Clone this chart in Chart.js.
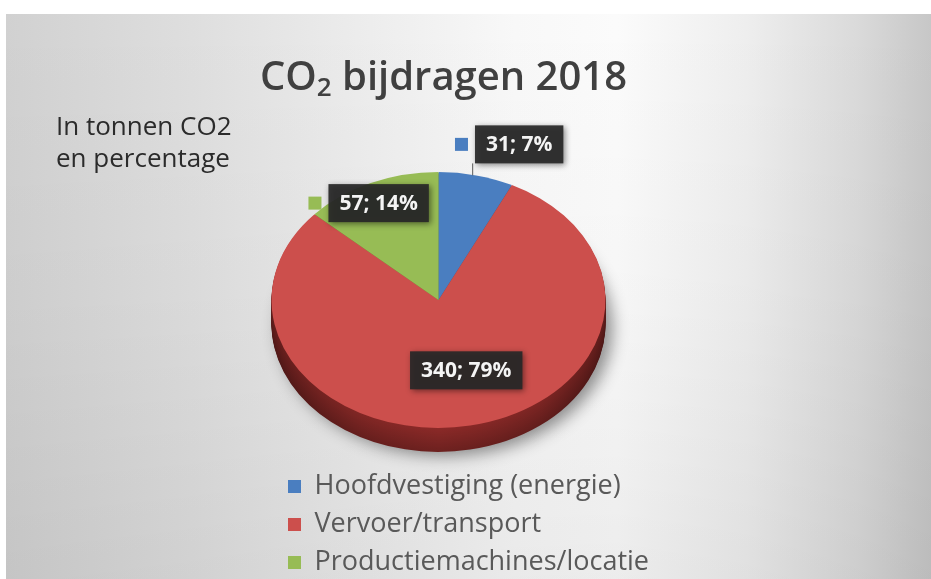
<!DOCTYPE html>
<html>
<head>
<meta charset="utf-8">
<script src="https://cdn.jsdelivr.net/npm/chart.js@4.4.1/dist/chart.umd.min.js"></script>
<style>
  html, body { margin: 0; padding: 0; background: #ffffff; width: 931px; height: 579px; overflow: hidden; }
  #panel {
    position: absolute; left: 6px; top: 14px; width: 925px; height: 565px;
    background:
      linear-gradient(to bottom, rgba(0,0,0,0) 0%, rgba(0,0,0,0.02) 50%, rgba(0,0,0,0.06) 100%),
      linear-gradient(to right, #d1d1d1 0%, #dedede 20%, #ececec 38%, #f8f8f8 55%, #fbfbfb 66%, #eeeeee 80%, #dadada 92%, #c7c7c7 100%);
  }
  #wrap { position: absolute; left: 0; top: 0; width: 931px; height: 579px; }
</style>
</head>
<body>
<div id="panel"></div>
<div id="wrap"><canvas id="c" width="931" height="579"></canvas></div>
<script>
// ---- data ----
const categories = ['Hoofdvestiging (energie)', 'Vervoer/transport', 'Productiemachines/locatie'];
const tonnes = [31, 340, 57];
const percentages = [7, 79, 14];
const titleMain = 'CO';
const titleSub = '2';
const titleRest = ' bijdragen 2018';
const subtitleLines = ['In tonnen CO2', 'en percentage'];

// ---- styles ----
const topColors = ['#4a7ec0', '#cc4f4c', '#97bc55'];
const sideRGB = [[47, 88, 140], [140, 42, 40], [104, 136, 52]];
const TILT = 0.766;     // vertical squash of the pie face
const DEPTH = 24;       // thickness of the 3D pie in px
const FONT = '"Open Sans", "Liberation Sans", sans-serif';

// label placement relative to each slice (inside fraction or outside offset)
const labelPlacement = [
  { mode: 'outside', dx: 43, dy: -31, leader: true },
  { mode: 'inside', f: 0.56, dx: 10, dy: 0 },
  { mode: 'outside', dx: 8, dy: 20, leader: false }
];

function rgb(c, k) {
  return 'rgb(' + c.map(v => Math.round(v * k)).join(',') + ')';
}

const pie3d = {
  id: 'pie3d',
  beforeDatasetsDraw(chart) {
    const ctx = chart.ctx;
    const arcs = chart.getDatasetMeta(0).data;
    ctx.save();
    if (!arcs.length) return;
    const cx = arcs[0].x, cy = arcs[0].y, R = arcs[0].outerRadius;
    ctx.translate(cx, cy); ctx.scale(1, TILT); ctx.translate(-cx, -cy);
    for (let d = DEPTH; d >= 1; d--) {
      ctx.save();
      ctx.translate(0, d / TILT);
      if (d === DEPTH) {
        ctx.shadowColor = 'rgba(0,0,0,0.42)';
        ctx.shadowBlur = 16;
        ctx.shadowOffsetX = 7;
        ctx.shadowOffsetY = 4;
      }
      const shade = 1 - 0.22 * (d / DEPTH);
      arcs.forEach((arc, i) => {
        const g = ctx.createLinearGradient(cx - R, 0, cx + R, 0);
        g.addColorStop(0, rgb(sideRGB[i], shade * 0.72));
        g.addColorStop(0.25, rgb(sideRGB[i], shade * 0.92));
        g.addColorStop(0.5, rgb(sideRGB[i], shade * 1.0));
        g.addColorStop(0.8, rgb(sideRGB[i], shade * 0.9));
        g.addColorStop(1, rgb(sideRGB[i], shade * 0.7));
        const fake = Object.create(arc);
        fake.options = Object.assign({}, arc.options, { backgroundColor: g, borderWidth: 0 });
        arc.draw.call(fake, ctx);
      });
      ctx.restore();
    }
  },
  afterDatasetsDraw(chart) {
    const ctx = chart.ctx;
    ctx.restore();
    const arcs = chart.getDatasetMeta(0).data;
    if (!arcs.length) return;
    ctx.save();
    ctx.font = 'bold 21px ' + FONT;
    arcs.forEach((arc, i) => {
      const p = labelPlacement[i];
      const a = (arc.startAngle + arc.endAngle) / 2;
      const R = arc.outerRadius;
      const text = tonnes[i] + '; ' + percentages[i] + '%';
      let bx, by, ex, ey;
      if (p.mode === 'inside') {
        bx = arc.x + p.f * R * Math.cos(a) + p.dx;
        by = arc.y + TILT * p.f * R * Math.sin(a) + p.dy;
      } else {
        ex = arc.x + R * Math.cos(a);
        ey = arc.y + TILT * R * Math.sin(a);
        bx = ex + p.dx;
        by = ey + p.dy;
      }
      const tw = ctx.measureText(text).width;
      const w = tw + 22, h = 38;
      const left = bx - w / 2, top = by - h / 2;
      if (p.leader) {
        ctx.strokeStyle = '#5a5a5a';
        ctx.lineWidth = 1;
        ctx.beginPath();
        ctx.moveTo(ex - 3.5, ey);
        ctx.lineTo(ex - 3.5, top + h);
        ctx.stroke();
      }
      ctx.save();
      ctx.shadowColor = 'rgba(0,0,0,0.5)';
      ctx.shadowBlur = 6;
      ctx.shadowOffsetX = 2;
      ctx.shadowOffsetY = 2;
      ctx.fillStyle = 'rgba(40,40,40,0.93)';
      ctx.fillRect(left, top, w, h);
      ctx.restore();
      ctx.fillStyle = '#f4f4f4';
      ctx.textAlign = 'center';
      ctx.textBaseline = 'middle';
      ctx.fillText(text, bx, by + 1);
      if (p.mode === 'outside') {
        ctx.fillStyle = topColors[i];
        ctx.fillRect(left - 20, by - 6.5, 13, 13);
      }
    });
    ctx.restore();
  }
};

const texts = {
  id: 'texts',
  afterDraw(chart) {
    const ctx = chart.ctx;
    const ca = chart.chartArea;
    const mid = (ca.left + ca.right) / 2 + 5;
    ctx.save();
    ctx.fillStyle = '#404040';
    ctx.textBaseline = 'alphabetic';
    ctx.textAlign = 'left';
    const big = '600 40px ' + FONT, small = '600 26px ' + FONT;
    ctx.font = big;
    const w1 = ctx.measureText(titleMain).width;
    const w3 = ctx.measureText(titleRest).width;
    ctx.font = small;
    const w2 = ctx.measureText(titleSub).width;
    let x = mid - (w1 + w2 + w3) / 2;
    const base = 90;
    ctx.font = big; ctx.fillText(titleMain, x, base); x += w1;
    ctx.font = small; ctx.fillText(titleSub, x, base + 6); x += w2;
    ctx.font = big; ctx.fillText(titleRest, x, base);
    ctx.fillStyle = '#2b2b2b';
    ctx.font = '26px ' + FONT;
    subtitleLines.forEach((s, i) => ctx.fillText(s, 56, 135 + i * 32));
    ctx.restore();
  }
};

new Chart(document.getElementById('c'), {
  type: 'pie',
  data: {
    labels: categories,
    datasets: [{
      data: tonnes,
      backgroundColor: topColors,
      borderWidth: 0,
      clip: false
    }]
  },
  options: {
    responsive: false,
    devicePixelRatio: 1,
    animation: false,
    radius: 167,
    // the right-hand spacer box keeps the pie centred while the legend box stays wide enough
    layout: { padding: { left: 277, right: 100, top: 138, bottom: -7 } },
    plugins: {
      tooltip: { enabled: false },
      title: { display: false },
      subtitle: {
        display: true,
        position: 'right',
        fullSize: false,
        text: '',
        font: { size: 10 },
        padding: { top: 110, bottom: 109 }
      },
      legend: {
        position: 'bottom',
        align: 'start',
        labels: {
          boxWidth: 13,
          boxHeight: 13,
          padding: 11,
          color: '#595959',
          font: { family: FONT, size: 27 }
        }
      }
    }
  },
  plugins: [pie3d, texts]
});
</script>
</body>
</html>
